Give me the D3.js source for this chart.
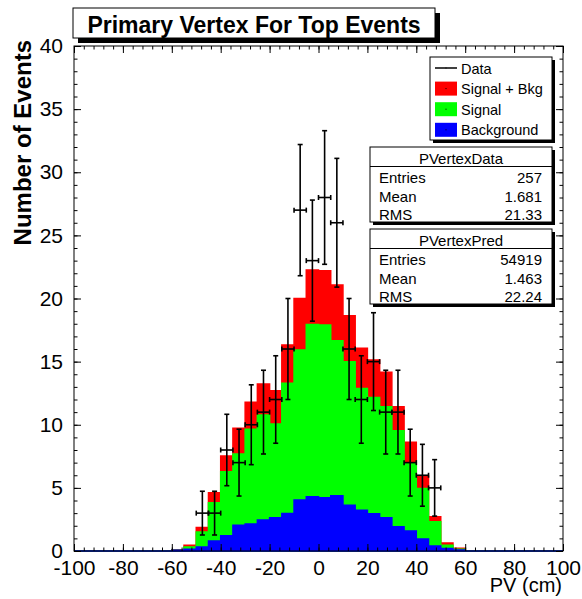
<!DOCTYPE html>
<html>
<head>
<meta charset="utf-8">
<script src="https://cdn.jsdelivr.net/npm/d3@7"></script>
<style>
  body { margin: 0; background: #fff; }
  svg { display: block; font-family: "Liberation Sans", Arial, Helvetica, sans-serif; }
</style>
</head>
<body>
<div id="plot"></div>
<script>
// Chart values (5 cm bins, lower edges)
const binLow = [-60, -55, -50, -45, -40, -35, -30, -25, -20, -15, -10, -5,
                0, 5, 10, 15, 20, 25, 30, 35, 40, 45, 50, 55];
const binWidth = 5;
const sigBkg = [0.1, 0.45, 1.87, 4.62, 7.52, 9.72, 11.78, 13.23, 12.7, 16.32, 20.0, 22.26,
                22.2, 21.07, 18.64, 16.05, 15.13, 14.15, 11.43, 8.61, 5.94, 2.72, 0.63, 0.21];
const signal = [0.05, 0.32, 1.5, 3.83, 6.28, 7.68, 9.64, 10.77, 10.06, 13.28, 15.92, 17.95,
                17.9, 16.66, 15.0, 12.88, 12.15, 11.43, 9.53, 7.0, 4.96, 2.32, 0.45, 0.14];
const background = [0.05, 0.13, 0.32, 0.79, 1.21, 2.03, 2.14, 2.46, 2.64, 2.97, 4.04, 4.30,
                    4.22, 4.38, 3.62, 3.22, 2.96, 2.64, 1.93, 1.58, 0.95, 0.40, 0.2, 0.08];
const dataCounts = [0, 0, 3, 3, 8, 7, 10, 11, 12, 16, 27, 23,
                    28, 26, 16, 12, 15, 11, 11, 7, 6, 5, 0, 0];

const xTicks = [-100, -80, -60, -40, -20, 0, 20, 40, 60, 80, 100];
const yTicks = [0, 5, 10, 15, 20, 25, 30, 35, 40];

const legendItems = [
    { label: "Data", kind: "line", color: "#000" },
    { label: "Signal + Bkg", kind: "box", color: "#ff0000" },
    { label: "Signal", kind: "box", color: "#00ff00" },
    { label: "Background", kind: "box", color: "#0000ff" }
];
const statsBoxes = [
    { name: "PVertexData", rows: [["Entries", "257"], ["Mean", "1.681"], ["RMS", "21.33"]] },
    { name: "PVertexPred", rows: [["Entries", "54919"], ["Mean", "1.463"], ["RMS", "22.24"]] }
];

const width = 582, height = 599;
const x = d3.scaleLinear().domain([-100, 100]).range([74, 563]);
const y = d3.scaleLinear().domain([0, 40]).range([551, 46]);

const svg = d3.select("#plot").append("svg")
    .attr("width", width)
    .attr("height", height);

// step outline over the full axis range
function histPath(values) {
    const p = d3.path();
    p.moveTo(x(-100), y(0));
    p.lineTo(x(binLow[0]), y(0));
    binLow.forEach((lo, i) => {
        p.lineTo(x(lo), y(values[i]));
        p.lineTo(x(lo + binWidth), y(values[i]));
    });
    p.lineTo(x(binLow[binLow.length - 1] + binWidth), y(0));
    p.lineTo(x(100), y(0));
    p.closePath();
    return p.toString();
}

[[sigBkg, "#ff0000"], [signal, "#00ff00"], [background, "#0000ff"]].forEach(([vals, col]) => {
    svg.append("path")
        .attr("d", histPath(vals))
        .attr("fill", col)
        .attr("stroke", col)
        .attr("stroke-width", 1.5);
});

// data points with error bars
const pts = binLow.map((lo, i) => ({ lo: lo, n: dataCounts[i] })).filter(d => d.n > 0);
const eg = svg.append("g").attr("stroke", "#000").attr("stroke-width", 1.6);
pts.forEach(d => {
    const cx = x(d.lo + binWidth / 2), cy = y(d.n);
    const e = Math.sqrt(d.n);
    const y1 = y(d.n + e), y2 = y(d.n - e);
    const xa = x(d.lo), xb = x(d.lo + binWidth);
    eg.append("line").attr("x1", cx).attr("x2", cx).attr("y1", y1).attr("y2", y2);
    eg.append("line").attr("x1", xa).attr("x2", xb).attr("y1", cy).attr("y2", cy);
    eg.append("line").attr("x1", cx - 2.5).attr("x2", cx + 2.5).attr("y1", y1).attr("y2", y1);
    eg.append("line").attr("x1", cx - 2.5).attr("x2", cx + 2.5).attr("y1", y2).attr("y2", y2);
    eg.append("line").attr("x1", xa).attr("x2", xa).attr("y1", cy - 2.5).attr("y2", cy + 2.5);
    eg.append("line").attr("x1", xb).attr("x2", xb).attr("y1", cy - 2.5).attr("y2", cy + 2.5);
});

// axes (ticks inward, ROOT style)
function styleAxis(g) {
    g.select(".domain").remove();
    g.selectAll("line").attr("stroke", "#000");
    g.selectAll("text").attr("font-size", 21).attr("fill", "#000");
}
const minorX = d3.range(-96, 100, 4);
const minorY = d3.range(1, 40, 1);
const plain = d => String(d);   // plain hyphen minus, like the original

svg.append("g").attr("transform", `translate(0,${y(0)})`)
    .call(d3.axisBottom(x).tickValues(xTicks).tickSize(-7).tickPadding(9).tickFormat(plain))
    .call(styleAxis);
svg.append("g").attr("transform", `translate(0,${y(0)})`)
    .call(d3.axisBottom(x).tickValues(minorX).tickSize(-3.5).tickFormat(""))
    .call(styleAxis);
svg.append("g").attr("transform", `translate(0,${y(40)})`)
    .call(d3.axisTop(x).tickValues(xTicks).tickSize(-7).tickFormat(""))
    .call(styleAxis);
svg.append("g").attr("transform", `translate(0,${y(40)})`)
    .call(d3.axisTop(x).tickValues(minorX).tickSize(-3.5).tickFormat(""))
    .call(styleAxis);

svg.append("g").attr("transform", `translate(${x(-100)},0)`)
    .call(d3.axisLeft(y).tickValues(yTicks).tickSize(-7).tickPadding(11).tickFormat(plain))
    .call(styleAxis);
svg.append("g").attr("transform", `translate(${x(-100)},0)`)
    .call(d3.axisLeft(y).tickValues(minorY).tickSize(-3.5).tickFormat(""))
    .call(styleAxis);
svg.append("g").attr("transform", `translate(${x(100)},0)`)
    .call(d3.axisRight(y).tickValues(yTicks).tickSize(-7).tickFormat(""))
    .call(styleAxis);
svg.append("g").attr("transform", `translate(${x(100)},0)`)
    .call(d3.axisRight(y).tickValues(minorY).tickSize(-3.5).tickFormat(""))
    .call(styleAxis);

// frame
svg.append("rect")
    .attr("x", x(-100)).attr("y", y(40))
    .attr("width", x(100) - x(-100)).attr("height", y(0) - y(40))
    .attr("fill", "none").attr("stroke", "#000").attr("stroke-width", 1);

// axis titles
svg.append("text")
    .attr("x", x(100) - 1).attr("y", 592)
    .attr("text-anchor", "end")
    .attr("font-size", 20)
    .text("PV (cm)");

svg.append("text")
    .attr("transform", "translate(31,40) rotate(-90)")
    .attr("text-anchor", "end")
    .attr("font-size", 24)
    .attr("font-weight", "bold")
    .text("Number of Events");

// boxed panel with drop shadow
function shadowBox(x0, y0, w, h, off) {
    svg.append("rect").attr("x", x0 + off).attr("y", y0 + off)
        .attr("width", w).attr("height", h).attr("fill", "#000");
    svg.append("rect").attr("x", x0).attr("y", y0)
        .attr("width", w).attr("height", h)
        .attr("fill", "#fff").attr("stroke", "#000").attr("stroke-width", 1);
}

// title
shadowBox(73, 8, 362, 30, 5);
svg.append("text")
    .attr("x", 254).attr("y", 32.5)
    .attr("text-anchor", "middle")
    .attr("font-size", 23)
    .attr("font-weight", "bold")
    .text("Primary Vertex For Top Events");

// legend
shadowBox(430, 57, 122, 83, 3);
legendItems.forEach((d, i) => {
    const cy = 68 + i * 20.6;
    if (d.kind === "line") {
        svg.append("line").attr("x1", 435).attr("x2", 457).attr("y1", cy).attr("y2", cy)
            .attr("stroke", d.color).attr("stroke-width", 1.5);
    } else {
        svg.append("rect").attr("x", 435).attr("y", cy - 7).attr("width", 22).attr("height", 14)
            .attr("fill", d.color);
    }
    svg.append("rect").attr("x", 445.5).attr("y", cy - 0.5).attr("width", 1).attr("height", 1)
        .attr("fill", "#000");
    svg.append("text")
        .attr("x", 461).attr("y", cy + 5.5)
        .attr("font-size", 14.5)
        .text(d.label);
});

// statistics boxes
const statTop = [147, 229];
statsBoxes.forEach((s, k) => {
    const top = statTop[k];
    shadowBox(370, top, 182, 75, 3);
    svg.append("line").attr("x1", 370).attr("x2", 552)
        .attr("y1", top + 19.5).attr("y2", top + 19.5)
        .attr("stroke", "#000");
    svg.append("text")
        .attr("x", 461).attr("y", top + 16.5)
        .attr("text-anchor", "middle")
        .attr("font-size", 15)
        .text(s.name);
    s.rows.forEach((r, j) => {
        const by = top + 36 + j * 18.5;
        svg.append("text").attr("x", 379).attr("y", by).attr("font-size", 15).text(r[0]);
        svg.append("text").attr("x", 542).attr("y", by).attr("font-size", 15)
            .attr("text-anchor", "end").text(r[1]);
    });
});
</script>
</body>
</html>
